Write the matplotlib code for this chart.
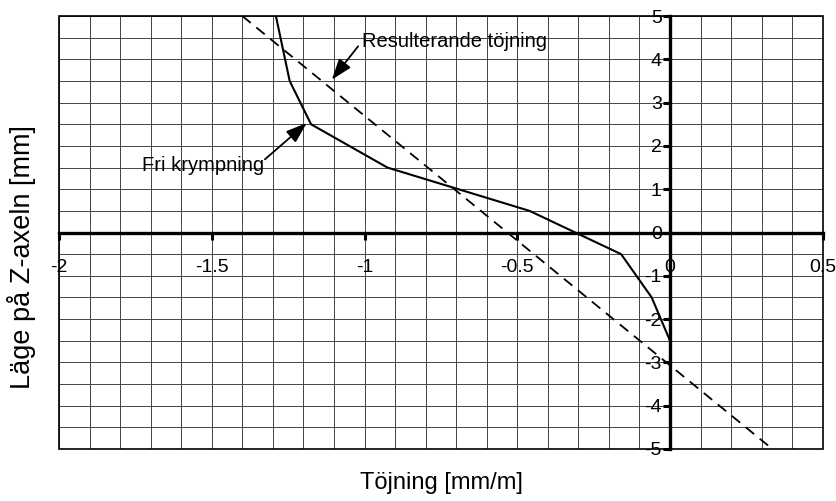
import matplotlib
matplotlib.use("Agg")
import matplotlib.pyplot as plt
from matplotlib.ticker import MultipleLocator, FixedLocator
from matplotlib.patches import Rectangle

plt.rcParams['font.family'] = ['Liberation Sans', 'DejaVu Sans']

# Fri krympning (free shrinkage) profile through the thickness
fri_z = [5.0, 3.5, 2.5, 1.5, 0.5, -0.5, -1.5, -2.5, -5.0]
fri_strain = [-1.29, -1.245, -1.175, -0.925, -0.46, -0.16, -0.06, 0.0, 0.0]

# Resulterande töjning (resulting strain), linear through the section
res_z = [5.0, -5.0]
res_strain = [-1.40, 0.335]

x_ticks = [-2, -1.5, -1, -0.5, 0, 0.5]
x_tick_labels = ['-2', '-1.5', '-1', '-0.5', '0', '0.5']
y_ticks = [-5, -4, -3, -2, -1, 0, 1, 2, 3, 4, 5]
y_tick_labels = ['-5', '-4', '-3', '-2', '-1', '0', '1', '2', '3', '4', '5']

fig = plt.figure(figsize=(8.37, 5.01), dpi=100)
ax = fig.add_axes([0.0705, 0.1038, 0.9125, 0.8642])
ax.set_xlim(-2, 0.5)
ax.set_ylim(-5, 5)

# fine grid: 0.1 in strain, 0.5 in position
ax.xaxis.set_minor_locator(MultipleLocator(0.1))
ax.yaxis.set_minor_locator(MultipleLocator(0.5))
ax.grid(which='both', color='#444444', linewidth=0.7)
ax.set_axisbelow(True)

# axes through the origin
for side in ('left', 'bottom'):
    ax.spines[side].set_position(('data', 0))
    ax.spines[side].set_linewidth(2.4)
for side in ('top', 'right'):
    ax.spines[side].set_visible(False)
ax.add_patch(Rectangle((0, 0), 1, 1, transform=ax.transAxes, fill=False,
                       edgecolor='black', linewidth=1.2, zorder=5, clip_on=False))

ax.xaxis.set_major_locator(FixedLocator(x_ticks))
ax.set_xticklabels(x_tick_labels)
ax.yaxis.set_major_locator(FixedLocator(y_ticks))
ax.set_yticklabels(y_tick_labels)
ax.tick_params(which='major', direction='out', length=5, width=2.2,
               labelsize=14, colors='black')
ax.tick_params(axis='x', which='major', pad=14)
ax.tick_params(axis='y', which='major', pad=1)
ax.tick_params(which='minor', length=0)

ax.plot(fri_strain, fri_z, color='black', linewidth=1.5, zorder=4)
ax.plot(res_strain, res_z, color='black', linewidth=1.3,
        linestyle=(0, (6, 4)), zorder=4)

arrow = dict(arrowstyle='-|>,head_length=0.8,head_width=0.28', color='black',
             lw=1.3, mutation_scale=16, shrinkA=0, shrinkB=0)

ax.text(-1.008, 4.41, 'Resulterande töjning', fontsize=14.5,
        va='center', ha='left', zorder=6)
ax.annotate('', xy=(-1.107, 3.53), xytext=(-1.021, 4.30),
            arrowprops=arrow, zorder=6)

ax.text(-1.728, 1.55, 'Fri krympning', fontsize=14.5,
        va='center', ha='left', zorder=6)
ax.annotate('', xy=(-1.189, 2.53), xytext=(-1.326, 1.69),
            arrowprops=arrow, zorder=6)

fig.text(0.527, 0.035, 'Töjning [mm/m]', fontsize=17, ha='center', va='center')
fig.text(0.026, 0.487, 'Läge på Z-axeln [mm]', fontsize=19.5, ha='center',
         va='center', rotation=90)

fig.savefig('out.png', dpi=100)
